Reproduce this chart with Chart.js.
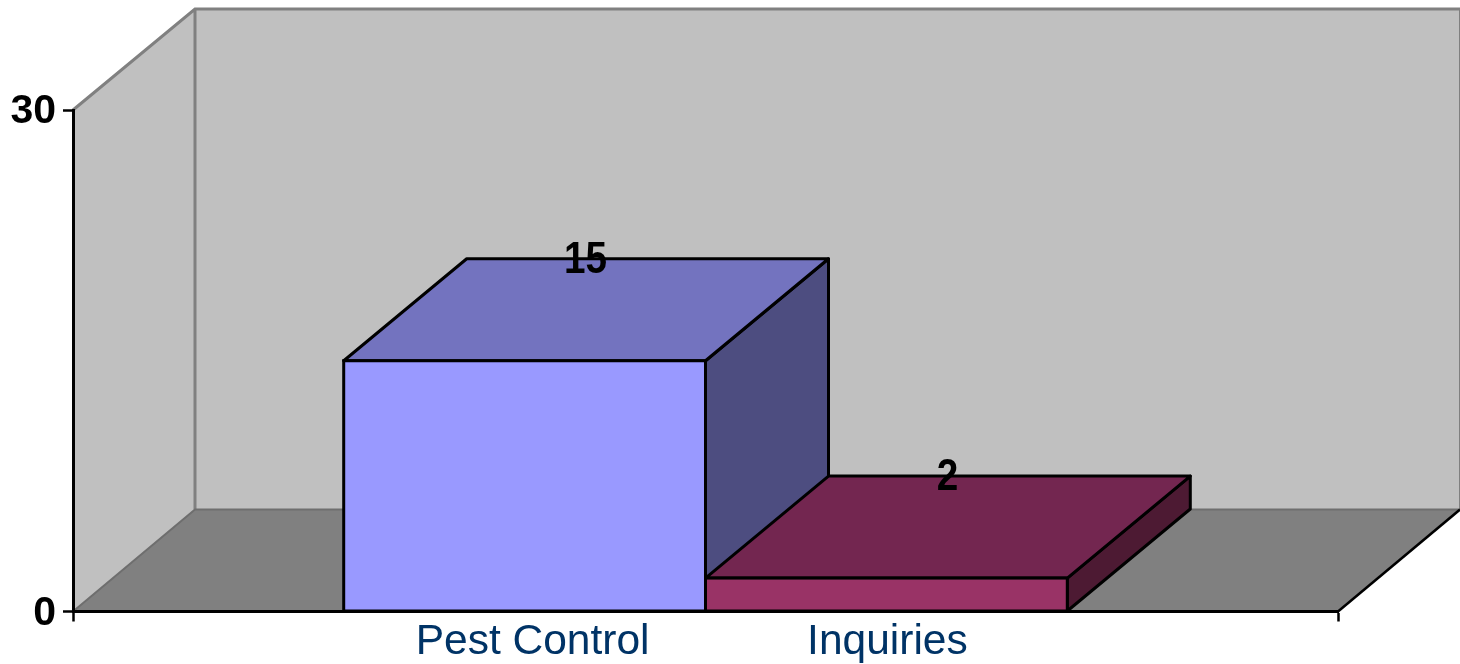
<!DOCTYPE html>
<html>
<head>
<meta charset="utf-8">
<title>Pest Control and Inquiries</title>
<script src="https://cdn.jsdelivr.net/npm/chart.js@4/dist/chart.umd.min.js"></script>
<style>
    html, body { margin: 0; padding: 0; background: #ffffff; overflow: hidden; }
    canvas { display: block; }
</style>
</head>
<body>
<canvas id="pestChart" width="1460" height="664"></canvas>
<script>
const categories = [""]
const seriesNames = ["Pest Control", "Inquiries"]
const seriesValues = [15, 2]
const yTicks = [0, 30]

const frontColors = ["#9999FF", "#993366"]
const topColors = ["#7373BF", "#732650"]
const sideColors = ["#4D4D80", "#4D1A33"]

const depthX = 122
const depthY = 102
const barDepthX = 123
const fontFamily = '"Liberation Sans", Arial, sans-serif'

const polygon = (ctx, points, fill, stroke, lineWidth) => {
    ctx.beginPath()
    points.forEach(([x, y], i) => (i ? ctx.lineTo(x, y) : ctx.moveTo(x, y)))
    ctx.closePath()
    if (fill) {
        ctx.fillStyle = fill
        ctx.fill()
    }
    if (stroke) {
        ctx.strokeStyle = stroke
        ctx.lineWidth = lineWidth
        ctx.lineJoin = "round"
        ctx.stroke()
    }
}

// Walls, floor and the top and side faces of the bars
const box3d = {
    id: "box3d",
    beforeDraw(chart) {
        const { ctx, chartArea } = chart
        const { left, right, top } = chartArea
        const bottom = chart.scales.y.getPixelForValue(0)
        ctx.save()

        // Left wall and back wall
        polygon(ctx, [[left, top], [left + depthX, top - depthY], [left + depthX, bottom - depthY], [left, bottom]], "#C0C0C0")
        polygon(ctx, [[left + depthX, top - depthY], [right + depthX, top - depthY], [right + depthX, bottom - depthY], [left + depthX, bottom - depthY]], "#C0C0C0")
        ctx.strokeStyle = "#808080"
        ctx.lineWidth = 3
        ctx.beginPath()
        ctx.moveTo(left, top)
        ctx.lineTo(left + depthX, top - depthY + 1)
        ctx.lineTo(right + depthX, top - depthY + 1)
        ctx.moveTo(left + depthX, top - depthY + 1)
        ctx.lineTo(left + depthX, bottom - depthY)
        ctx.stroke()
        ctx.lineWidth = 1
        ctx.beginPath()
        ctx.moveTo(right + depthX - 0.5, top - depthY)
        ctx.lineTo(right + depthX - 0.5, bottom - depthY)
        ctx.stroke()

        // Floor
        polygon(ctx, [[left, bottom], [left + depthX, bottom - depthY], [right + depthX, bottom - depthY], [right, bottom]], "#808080")
        ctx.strokeStyle = "#6E6E6E"
        ctx.lineWidth = 2
        ctx.beginPath()
        ctx.moveTo(left, bottom)
        ctx.lineTo(left + depthX, bottom - depthY)
        ctx.lineTo(right + depthX, bottom - depthY)
        ctx.stroke()
        ctx.strokeStyle = "#000000"
        ctx.lineWidth = 2.5
        ctx.beginPath()
        ctx.moveTo(right, bottom)
        ctx.lineTo(right + depthX, bottom - depthY)
        ctx.stroke()
        ctx.restore()
    },
    beforeDatasetsDraw(chart) {
        const { ctx } = chart
        ctx.save()

        // Top and side of each bar, the front comes from Chart.js itself
        seriesValues.forEach((value, i) => {
            const bar = chart.getDatasetMeta(i).data[0]
            const x0 = bar.x - bar.width / 2
            const x1 = bar.x + bar.width / 2
            polygon(ctx, [[x1, bar.y], [x1 + barDepthX, bar.y - depthY], [x1 + barDepthX, bar.base - depthY], [x1, bar.base]], sideColors[i], "#000000", 3)
            polygon(ctx, [[x0, bar.y], [x0 + barDepthX, bar.y - depthY], [x1 + barDepthX, bar.y - depthY], [x1, bar.y]], topColors[i], "#000000", 3)
        })
        ctx.restore()
    },
    afterDatasetsDraw(chart) {
        const { ctx } = chart
        ctx.save()
        ctx.textAlign = "center"
        seriesValues.forEach((value, i) => {
            const bar = chart.getDatasetMeta(i).data[0]

            // Outline of the front face, centred on the bar edge
            ctx.strokeStyle = "#000000"
            ctx.lineWidth = 3
            ctx.strokeRect(bar.x - bar.width / 2, bar.y, bar.width, bar.base - bar.y)
        })
        seriesValues.forEach((value, i) => {
            const bar = chart.getDatasetMeta(i).data[0]

            // Value sits on the middle of the bar's back top edge
            ctx.save()
            ctx.translate(bar.x + depthX / 2, bar.y - depthY + 2)
            ctx.scale(0.88, 1)
            ctx.font = "bold 44px " + fontFamily
            ctx.fillStyle = "#000000"
            ctx.textBaseline = "middle"
            ctx.fillText(String(value), 0, 0)
            ctx.restore()

            // Series name under the bar
            ctx.font = "42.5px " + fontFamily
            ctx.fillStyle = "#003366"
            ctx.textBaseline = "alphabetic"
            ctx.fillText(seriesNames[i], bar.x + (i === 0 ? 8 : 1), bar.base + 43)
        })
        ctx.restore()
    },
}

new Chart(document.getElementById("pestChart").getContext("2d"), {
    type: "bar",
    plugins: [box3d],
    data: {
        labels: categories,
        datasets: seriesNames.map((name, i) => ({
            label: name,
            data: [seriesValues[i]],
            backgroundColor: frontColors[i],
            borderWidth: 0,
            categoryPercentage: 0.572,
            barPercentage: 1,
        })),
    },
    options: {
        responsive: false,
        animation: false,
        layout: { padding: { top: 110, right: 122, left: 0, bottom: 0 } },
        plugins: {
            legend: { display: false },
            title: { display: false },
            tooltip: { enabled: false },
        },
        scales: {
            x: {
                offset: true,
                afterFit: (scale) => {
                    scale.height = 52.5
                },
                grid: {
                    offset: true,
                    drawOnChartArea: false,
                    drawTicks: true,
                    tickLength: 10,
                    tickColor: "#000000",
                    tickWidth: 2.5,
                },
                border: { color: "#000000", width: 3 },
                ticks: { display: false },
            },
            y: {
                min: yTicks[0],
                max: yTicks[1],
                afterFit: (scale) => {
                    scale.width = 73
                },
                afterBuildTicks: (scale) => {
                    scale.ticks = yTicks.map((value) => ({ value }))
                },
                grid: {
                    drawOnChartArea: false,
                    drawTicks: true,
                    tickLength: 10,
                    tickColor: "#000000",
                    tickWidth: 2.5,
                },
                border: { color: "#000000", width: 3 },
                ticks: {
                    color: "#000000",
                    padding: 7,
                    labelOffset: 2,
                    font: { family: fontFamily, size: 41, weight: "bold" },
                },
            },
        },
    },
})
</script>
</body>
</html>
